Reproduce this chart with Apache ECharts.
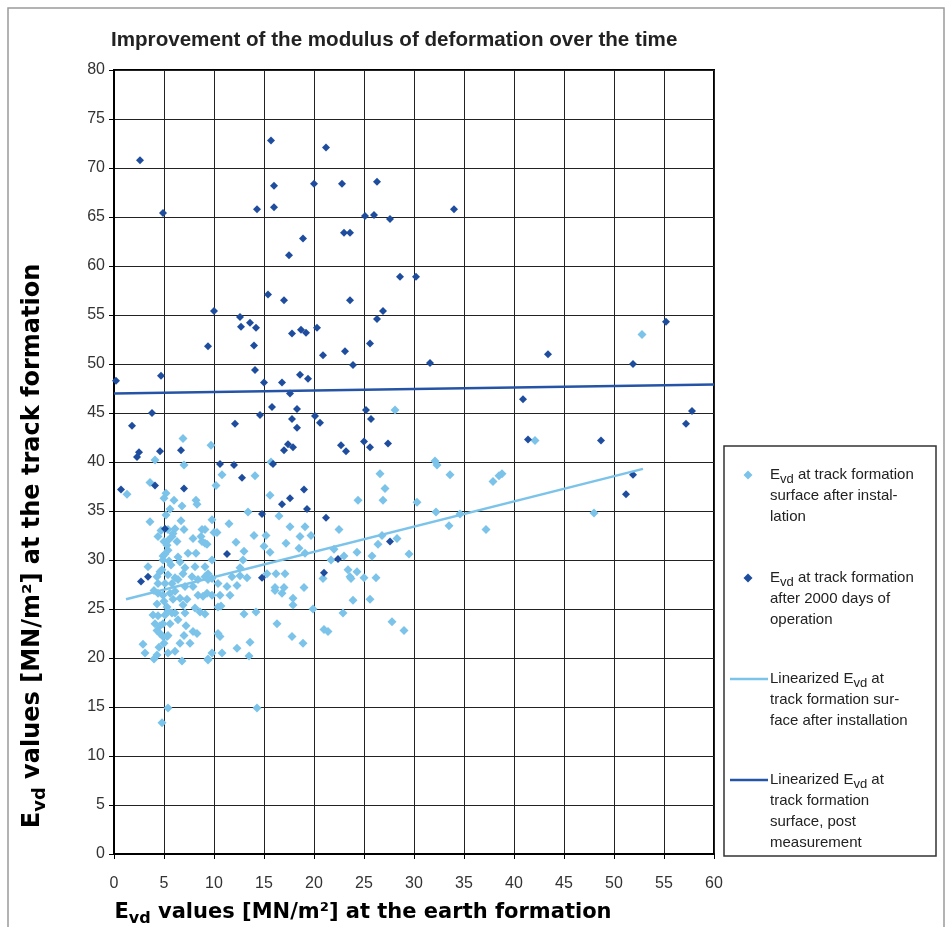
<!DOCTYPE html>
<html>
<head>
<meta charset="utf-8">
<script src="https://cdn.jsdelivr.net/npm/echarts@6/dist/echarts.min.js"></script>
<style>html,body{margin:0;padding:0;background:#fff}#chart{width:952px;height:927px}</style>
</head>
<body>
<div id="chart"></div>
<script>
// ---- data ----
var titleText = 'Improvement of the modulus of deformation over the time';
var xRange = [0, 60], xStep = 5;
var yRange = [0, 80], yStep = 5;

var lightPoints = [
 [6.9,42.4],[9.7,41.7],[4.1,40.2],[7.0,39.7],[10.8,38.7],[14.1,38.6],[15.7,40.0],[3.6,37.9],[28.1,45.3],[42.1,42.2],[52.8,53.0],[32.1,40.1],[32.3,39.7],
 [26.6,38.8],[33.6,38.7],[37.9,38.0],[38.5,38.6],[38.8,38.8],[27.1,37.3],[24.4,36.1],[26.9,36.1],[30.3,35.9],[32.2,34.9],[34.6,34.7],[48.0,34.8],[33.5,33.5],[37.2,33.1],
 [19.1,33.4],[18.6,32.4],[19.7,32.5],[22.5,33.1],[22.0,31.1],[26.8,32.5],[28.3,32.2],[26.4,31.6],[19.1,30.7],[24.3,30.8],[23.0,30.4],[25.8,30.4],[29.5,30.6],[21.7,30.0],
 [23.4,29.0],[24.3,28.8],[23.6,28.3],[23.7,28.1],[25.0,28.2],[26.2,28.2],[20.9,28.1],[19.0,27.2],[23.9,25.9],[25.6,26.0],[19.9,25.0],[22.9,24.6],[27.8,23.7],[29.0,22.8],
 [21.0,22.9],[21.4,22.7],[18.9,21.5],
 [1.3,36.7],[5.2,36.8],[5.0,36.3],[6.0,36.1],[6.8,35.5],[8.2,36.1],[8.3,35.7],[3.6,33.9],[4.7,33.0],[4.4,32.4],[5.4,33.1],[6.1,33.2],[5.9,32.7],[5.8,32.4],[7.0,33.1],
 [8.8,33.1],[9.1,33.1],[6.3,31.9],[5.4,32.0],[5.3,31.5],[5.4,31.0],[5.1,30.6],[7.9,32.2],[8.7,32.4],[8.8,31.9],[9.1,31.7],[7.4,30.7],[8.2,30.7],[4.9,30.4],[4.9,30.0],
 [6.4,30.3],[6.6,29.8],[3.4,29.3],[5.7,29.5],[4.8,29.0],[4.6,28.8],[7.1,29.2],[8.1,29.3],[9.1,29.3],[4.3,28.3],[5.4,28.5],[6.1,28.2],[6.4,28.0],[5.8,27.6],[4.4,27.6],
 [5.1,27.6],[7.8,28.3],[8.4,28.0],[9.1,28.3],[7.1,27.3],[7.9,27.3],[5.2,34.6],[5.6,35.2],[5.0,31.9],[6.7,34.0],[5.5,29.9],[6.9,28.6],
 [4.4,26.6],[4.9,26.4],[5.6,26.6],[6.1,26.8],[6.6,26.1],[7.3,26.0],[8.4,26.4],[8.9,26.3],[9.3,26.6],[4.3,25.5],[5.3,25.2],[5.4,24.8],[5.1,24.4],[5.8,24.6],[3.9,24.4],
 [4.4,24.3],[6.1,24.6],[7.1,24.6],[8.1,25.1],[8.6,24.7],[9.1,24.5],[4.1,23.5],[4.6,23.3],[4.9,23.5],[5.6,23.5],[7.2,23.3],[4.3,22.8],[4.6,22.5],[4.9,22.2],[5.3,22.2],
 [5.4,22.3],[7.0,22.3],[7.9,22.7],[8.3,22.5],[2.9,21.4],[3.1,20.5],[4.5,21.1],[4.3,20.3],[4.0,19.9],[5.4,20.5],[6.1,20.7],[6.6,21.5],[7.6,21.5],[6.8,19.7],[9.4,19.9],
 [5.4,14.9],[4.8,13.4],[5.9,26.0],[6.9,25.4],[5.0,25.8],[4.0,26.9],[6.4,23.9],[5.0,21.5],
 [10.2,37.6],[15.6,36.6],[13.4,34.9],[16.5,34.5],[9.8,34.1],[11.5,33.7],[17.6,33.4],[10.0,32.8],[10.3,32.8],[14.0,32.5],[15.2,32.5],[12.2,31.8],[9.3,31.6],[17.2,31.7],
 [15.0,31.4],[13.0,30.9],[15.6,30.8],[18.5,31.2],[9.8,30.0],[12.9,30.0],[12.6,29.2],[9.4,28.6],[15.3,28.6],[16.2,28.6],[17.1,28.6],[9.8,28.1],[9.4,28.0],[10.4,27.6],
 [11.8,28.3],[12.6,28.4],[13.3,28.2],[11.3,27.3],[12.3,27.4],[16.1,27.2],[17.0,27.2],
 [9.8,26.4],[10.6,26.4],[11.6,26.4],[10.4,25.2],[10.7,25.3],[13.0,24.5],[14.2,24.7],[16.1,26.9],[16.8,26.6],[17.9,26.1],[17.9,25.4],[16.3,23.5],[17.8,22.2],[10.4,22.5],
 [10.6,22.2],[13.6,21.6],[12.3,21.0],[10.8,20.5],[9.8,20.5],[9.4,19.8],[13.5,20.2],[14.3,14.9]
];

var darkPoints = [
 [2.6,70.8],[4.9,65.4],[15.7,72.8],[21.2,72.1],[16.0,68.2],[16.0,66.0],[14.3,65.8],[20.0,68.4],[22.8,68.4],[26.3,68.6],[25.1,65.1],[26.0,65.2],[27.6,64.8],[34.0,65.8],
 [18.9,62.8],[17.5,61.1],[23.0,63.4],[23.6,63.4],[15.4,57.1],[17.0,56.5],[23.6,56.5],[28.6,58.9],[30.2,58.9],[10.0,55.4],[12.6,54.8],[12.7,53.8],[13.6,54.2],[14.2,53.7],
 [26.9,55.4],[26.3,54.6],[9.4,51.8],[14.0,51.9],[17.8,53.1],[18.7,53.5],[19.2,53.2],[20.3,53.7],[20.9,50.9],[23.1,51.3],[25.6,52.1],[23.9,49.9],[31.6,50.1],[43.4,51.0],
 [51.9,50.0],[55.2,54.3],[0.2,48.3],[4.7,48.8],[14.1,49.4],[18.6,48.9],[19.4,48.5],[15.0,48.1],[16.8,48.1],[17.6,47.0],
 [3.8,45.0],[1.8,43.7],[12.1,43.9],[14.6,44.8],[15.8,45.6],[18.3,45.4],[20.1,44.7],[20.6,44.0],[17.8,44.4],[18.3,43.5],[17.4,41.8],[17.0,41.2],[17.9,41.5],[22.7,41.7],
 [23.2,41.1],[25.2,45.3],[25.7,44.4],[25.0,42.1],[25.6,41.5],[27.4,41.9],[40.9,46.4],[57.8,45.2],[57.2,43.9],[41.4,42.3],[48.7,42.2],[2.5,41.0],[2.3,40.5],[4.6,41.1],
 [6.7,41.2],[10.6,39.8],[12.0,39.7],[15.9,39.8],[12.8,38.4],[4.1,37.6],[0.7,37.2],[7.0,37.3],[19.0,37.2],[17.6,36.3],[16.8,35.7],[19.3,35.2],[21.2,34.3],[14.8,34.7],
 [5.1,33.2],[11.3,30.6],[22.4,30.1],[21.0,28.7],[14.8,28.2],[3.4,28.3],[2.7,27.8],[51.9,38.7],[51.2,36.7],[27.6,31.9]
];

var lightTrend = [[1.2, 26.0], [52.9, 39.3]];
var darkTrend = [[0, 47.0], [60, 47.9]];

var seriesNames = [
  'Evd at track formation surface after installation',
  'Evd at track formation after 2000 days of operation',
  'Linearized Evd at track formation surface after installation',
  'Linearized Evd at track formation surface, post measurement'
];

// ---- styles ----
var LIGHT = '#7cc3ea', DARK = '#1f4d9e', DARKLINE = '#2554a6';
var FONT = 'Liberation Sans, Arial, Helvetica, sans-serif';
var WIDE = 'DejaVu Sans, Liberation Sans, sans-serif';
var subRich = {
  b: {fontSize: 15, fontFamily: FONT, color: '#222', lineHeight: 22, verticalAlign: 'middle'},
  s: {fontSize: 13, fontFamily: FONT, color: '#222', lineHeight: 12, verticalAlign: 'bottom'}
};
var xRich = {
  b: {fontSize: 21, fontWeight: 'bold', fontFamily: WIDE, color: '#222', lineHeight: 28, verticalAlign: 'middle'},
  s: {fontSize: 16, fontWeight: 'bold', fontFamily: WIDE, color: '#222', lineHeight: 15, verticalAlign: 'bottom'}
};
var yRich = {
  b: {fontSize: 24, fontWeight: 'bold', fontFamily: WIDE, color: '#222', lineHeight: 32, verticalAlign: 'middle'},
  s: {fontSize: 18, fontWeight: 'bold', fontFamily: WIDE, color: '#222', lineHeight: 17, verticalAlign: 'bottom'}
};

function legText(x, y, str) {
  return {type: 'text', x: x, y: y, style: {text: str, rich: subRich, font: '15px ' + FONT, fill: '#222', verticalAlign: 'middle'}};
}
function plain(x, y, str) {
  return {type: 'text', x: x, y: y, style: {text: str, font: '15px ' + FONT, fill: '#222', verticalAlign: 'middle'}};
}
function diamond(cx, cy, r, color) {
  return {type: 'polygon', shape: {points: [[cx, cy - r], [cx + r, cy], [cx, cy + r], [cx - r, cy]]}, style: {fill: color}};
}

var chart = echarts.init(document.getElementById('chart'), null, {renderer: 'canvas'});
var option = {
  animation: false,
  backgroundColor: '#fff',
  grid: {left: 114, right: 238, top: 70, bottom: 73, show: true, borderColor: '#000', borderWidth: 2, containLabel: false},
  xAxis: {
    type: 'value', min: xRange[0], max: xRange[1], interval: xStep,
    axisLine: {show: true, onZero: false, lineStyle: {color: '#000', width: 2}},
    axisTick: {show: true, inside: false, length: 5, lineStyle: {color: '#000', width: 1}},
    axisLabel: {margin: 22, fontSize: 16, fontFamily: FONT, color: '#333'},
    splitLine: {show: true, lineStyle: {color: '#222', width: 1}}
  },
  yAxis: {
    type: 'value', min: yRange[0], max: yRange[1], interval: yStep,
    axisLine: {show: true, onZero: false, lineStyle: {color: '#000', width: 2}},
    axisTick: {show: true, inside: false, length: 5, lineStyle: {color: '#000', width: 1}},
    axisLabel: {margin: 9, fontSize: 16, fontFamily: FONT, color: '#333'},
    splitLine: {show: true, lineStyle: {color: '#222', width: 1}}
  },
  series: [
    {name: seriesNames[0], type: 'scatter', data: lightPoints, symbol: 'diamond', symbolSize: 9, itemStyle: {color: LIGHT, opacity: 1}, z: 2},
    {name: seriesNames[1], type: 'scatter', data: darkPoints, symbol: 'diamond', symbolSize: 8, itemStyle: {color: DARK, opacity: 1}, z: 3},
    {name: seriesNames[2], type: 'line', data: lightTrend, symbol: 'none', lineStyle: {color: LIGHT, width: 2.5}, z: 4},
    {name: seriesNames[3], type: 'line', data: darkTrend, symbol: 'none', lineStyle: {color: DARKLINE, width: 2.5}, z: 4}
  ],
  graphic: [
    {type: 'rect', shape: {x: 8, y: 8, width: 936, height: 940}, style: {fill: 'none', stroke: '#9a9a9a', lineWidth: 1.5}, silent: true},
    {type: 'text', x: 111, y: 40, style: {text: titleText, font: 'bold 20.6px ' + FONT, fill: '#222', verticalAlign: 'middle'}},
    {type: 'text', x: 33, y: 546, rotation: Math.PI / 2,
      style: {text: '{b|E}{s|vd}{b| values [MN/m²] at the track formation}', rich: yRich, align: 'center', verticalAlign: 'middle'}},
    {type: 'text', x: 363, y: 913,
      style: {text: '{b|E}{s|vd}{b| values [MN/m²] at the earth formation}', rich: xRich, align: 'center', verticalAlign: 'middle'}},
    // legend box
    {type: 'rect', shape: {x: 724, y: 446, width: 212, height: 410}, style: {fill: '#fff', stroke: '#333', lineWidth: 1.5}},
    diamond(748, 475, 4.5, LIGHT),
    legText(770, 475, '{b|E}{s|vd}{b| at track formation}'),
    plain(770, 496, 'surface after instal-'),
    plain(770, 517, 'lation'),
    diamond(748, 578, 4.5, DARK),
    legText(770, 578, '{b|E}{s|vd}{b| at track formation}'),
    plain(770, 599, 'after 2000 days of'),
    plain(770, 620, 'operation'),
    {type: 'line', shape: {x1: 730, y1: 679, x2: 768, y2: 679}, style: {stroke: LIGHT, lineWidth: 2.5}},
    legText(770, 679, '{b|Linearized E}{s|vd}{b| at}'),
    plain(770, 700, 'track formation sur-'),
    plain(770, 721, 'face after installation'),
    {type: 'line', shape: {x1: 730, y1: 780, x2: 768, y2: 780}, style: {stroke: DARKLINE, lineWidth: 2.5}},
    legText(770, 780, '{b|Linearized E}{s|vd}{b| at}'),
    plain(770, 801, 'track formation'),
    plain(770, 822, 'surface, post'),
    plain(770, 843, 'measurement')
  ]
};
chart.setOption(option);
</script>
</body>
</html>
